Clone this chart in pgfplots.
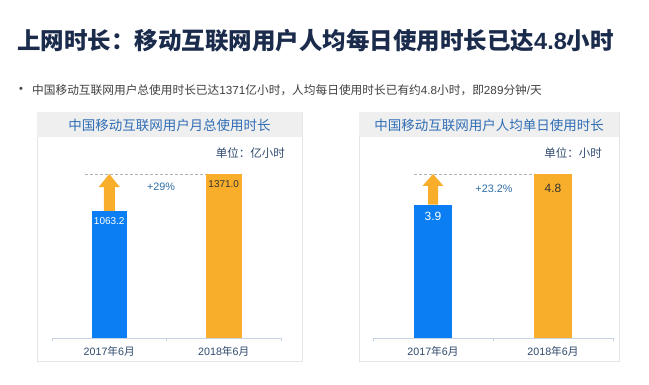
\documentclass[border=0pt]{standalone}
\usepackage{pgfplots}
\pgfplotsset{compat=1.18}
\usepackage{fontspec}
\setmainfont{Liberation Sans}
\newfontfamily\cjk{Noto Sans CJK SC}
\definecolor{barblue}{RGB}{10,126,242}
\definecolor{barorange}{RGB}{248,174,42}
\definecolor{headblue}{RGB}{47,109,181}
\definecolor{titlenavy}{RGB}{26,43,76}
\definecolor{bullettext}{RGB}{64,64,64}
\definecolor{unitblue}{RGB}{47,74,110}
\definecolor{pctblue}{RGB}{46,110,166}
\definecolor{axisline}{RGB}{197,211,224}
\definecolor{headergray}{RGB}{239,239,239}
\definecolor{panelborder}{RGB}{228,228,228}
\pgfplotsset{
  panelaxis/.style={
    anchor=south west, scale only axis, height=188pt,
    xmin=-0.5, xmax=1.5, ymin=0, clip=false,
    axis y line=none, axis x line*=bottom,
    x axis line style={draw=axisline, line width=0.8pt},
    xtick={0,1},
    xticklabels={{2017{\cjk 年}6{\cjk 月}},{2018{\cjk 年}6{\cjk 月}}},
    major tick length=0pt,
    extra x ticks={-0.5,0.5,1.5}, extra x tick labels={},
    extra x tick style={major tick length=3pt, tick align=outside},
    tick style={draw=axisline, line width=0.8pt},
    xticklabel style={text=unitblue, font=\fontsize{10.7}{12}\selectfont, yshift=-5pt},
  }
}
\begin{document}
\begin{tikzpicture}
\fill[white] (0,0) rectangle (649pt,-384pt);
% title
\node[anchor=west, inner sep=0, text=titlenavy, font=\fontsize{23.5}{26}\selectfont\bfseries] at (17pt,-41pt)
  {{\cjk\bfseries 上网时长：移动互联网用户人均每日使用时长已达}\textbf{4.8}{\cjk\bfseries 小时}};
% bullet
\node[anchor=center, inner sep=0, text=bullettext, font=\fontsize{11}{12}\selectfont] at (21pt,-90pt) {\textbullet};
\node[anchor=west, inner sep=0, text=bullettext, font=\fontsize{11.7}{13}\selectfont] at (32pt,-90pt)
  {{\cjk 中国移动互联网用户总使用时长已达}1371{\cjk 亿小时，人均每日使用时长已有约}4.8{\cjk 小时，即}289{\cjk 分钟}/{\cjk 天}};
% panels
\draw[panelborder, fill=white] (37pt,-112pt) rectangle (302pt,-361pt);
\fill[headergray] (37pt,-112pt) rectangle (302pt,-137pt);
\draw[panelborder, fill=white] (359pt,-112pt) rectangle (619pt,-361pt);
\fill[headergray] (359pt,-112pt) rectangle (619pt,-137pt);
\node[text=headblue, font=\fontsize{13.5}{15}\selectfont\cjk, inner sep=0] at (169.5pt,-125pt) {中国移动互联网用户月总使用时长};
\node[text=headblue, font=\fontsize{13.5}{15}\selectfont\cjk, inner sep=0] at (489pt,-125pt) {中国移动互联网用户人均单日使用时长};
\node[anchor=east, text=unitblue, font=\fontsize{11.5}{13}\selectfont\cjk, inner sep=0] at (285pt,-153pt) {单位：亿小时};
\node[anchor=east, text=unitblue, font=\fontsize{11.5}{13}\selectfont\cjk, inner sep=0] at (602pt,-153pt) {单位：小时};

% left chart
\begin{axis}[panelaxis, at={(52pt,-338pt)}, width=229pt, ymax=1571.6]
\addplot[ybar, bar width=35.5pt, bar shift=0pt, fill=barblue, draw=none] coordinates {(0,1063.2)};
\addplot[ybar, bar width=35.5pt, bar shift=0pt, fill=barorange, draw=none] coordinates {(1,1371.0)};
\draw[gray!60, line width=0.6pt, dash pattern=on 3pt off 2pt] (axis cs:-0.212,1371) -- (axis cs:0.845,1371);
\fill[barorange] ([xshift=-5.5pt]axis cs:0,1063.2) -- ([xshift=-5.5pt]axis cs:0,1262) -- ([xshift=-10.5pt]axis cs:0,1262)
  -- (axis cs:0,1371) -- ([xshift=10.5pt]axis cs:0,1262) -- ([xshift=5.5pt]axis cs:0,1262) -- ([xshift=5.5pt]axis cs:0,1063.2) -- cycle;
\node[text=white, font=\fontsize{10}{12}\selectfont, inner sep=0] at ([yshift=-10pt]axis cs:0,1063.2) {1063.2};
\node[text=black!80, font=\fontsize{10}{12}\selectfont, inner sep=0] at ([yshift=-10pt]axis cs:1,1371.0) {1371.0};
\node[text=pctblue, font=\fontsize{10.8}{12}\selectfont, inner sep=0] at (axis cs:0.452,1262.3) {+29\%};
\end{axis}

% right chart
\begin{axis}[panelaxis, at={(373pt,-338pt)}, width=240pt, ymax=5.502]
\addplot[ybar, bar width=38pt, bar shift=0pt, fill=barblue, draw=none] coordinates {(0,3.9)};
\addplot[ybar, bar width=38pt, bar shift=0pt, fill=barorange, draw=none] coordinates {(1,4.8)};
\draw[gray!60, line width=0.6pt, dash pattern=on 3pt off 2pt] (axis cs:-0.158,4.8) -- (axis cs:0.842,4.8);
\fill[barorange] ([xshift=-5pt]axis cs:0,3.9) -- ([xshift=-5pt]axis cs:0,4.449) -- ([xshift=-10.5pt]axis cs:0,4.449)
  -- (axis cs:0,4.8) -- ([xshift=10.5pt]axis cs:0,4.449) -- ([xshift=5pt]axis cs:0,4.449) -- ([xshift=5pt]axis cs:0,3.9) -- cycle;
\node[text=white, font=\fontsize{12}{14}\selectfont, inner sep=0] at ([yshift=-12pt]axis cs:0,3.9) {3.9};
\node[text=black!80, font=\fontsize{12}{14}\selectfont, inner sep=0] at ([yshift=-14pt]axis cs:1,4.8) {4.8};
\node[text=pctblue, font=\fontsize{10.8}{12}\selectfont, inner sep=0] at (axis cs:0.508,4.361) {+23.2\%};
\end{axis}
\end{tikzpicture}
\end{document}
